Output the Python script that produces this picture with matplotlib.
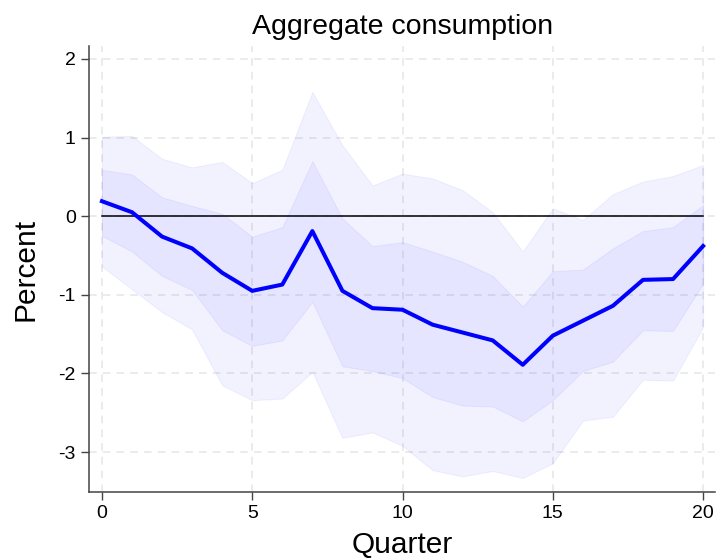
import numpy as np
import matplotlib
matplotlib.use("Agg")
import matplotlib.pyplot as plt

plt.rcParams['font.family'] = ['Liberation Sans', 'DejaVu Sans']
plt.rcParams['axes.unicode_minus'] = False

quarters = np.arange(21)
irf = [0.19, 0.05, -0.26, -0.41, -0.72, -0.95, -0.87, -0.19, -0.95, -1.17, -1.19,
       -1.38, -1.48, -1.58, -1.89, -1.52, -1.33, -1.14, -0.81, -0.80, -0.38]
hi68 = [0.59, 0.53, 0.24, 0.13, 0.03, -0.26, -0.14, 0.70, -0.03, -0.38, -0.33,
        -0.45, -0.58, -0.76, -1.15, -0.70, -0.68, -0.41, -0.19, -0.14, 0.14]
lo68 = [-0.25, -0.45, -0.76, -0.94, -1.45, -1.65, -1.58, -1.09, -1.91, -1.97, -2.06,
        -2.30, -2.41, -2.42, -2.61, -2.34, -1.97, -1.85, -1.45, -1.46, -0.86]
hi90 = [1.01, 1.02, 0.73, 0.62, 0.69, 0.42, 0.59, 1.58, 0.90, 0.39, 0.54,
        0.48, 0.33, 0.05, -0.45, 0.10, -0.05, 0.28, 0.44, 0.51, 0.65]
lo90 = [-0.64, -0.93, -1.22, -1.44, -2.15, -2.34, -2.32, -1.98, -2.82, -2.75, -2.92,
        -3.23, -3.31, -3.24, -3.33, -3.14, -2.60, -2.55, -2.08, -2.09, -1.41]
xticks = [0, 5, 10, 15, 20]
yticks = [-3, -2, -1, 0, 1, 2]

fig = plt.figure(figsize=(7.18, 5.58), dpi=100)
ax = fig.add_axes([0.124, 0.118, 0.872, 0.799])

# bands: 90% then 68% on top
ax.fill_between(quarters, lo90, hi90, color='blue', alpha=0.05, lw=0.8)
ax.fill_between(quarters, lo68, hi68, color='blue', alpha=0.05, lw=0.8)
ax.plot(quarters, np.zeros(len(quarters)), color='black', lw=1.1)
ax.plot(quarters, irf, color='blue', lw=2.9)

ax.set_xlim(-0.43, 20.4)
ax.set_ylim(-3.51, 2.16)
ax.set_xticks(xticks)
ax.set_yticks(yticks)
ax.grid(True, color='#e6e6e6', ls=(0, (5, 4)), lw=1.1)
ax.set_axisbelow(True)

for s in ['top', 'right']:
    ax.spines[s].set_visible(False)
for s in ['left', 'bottom']:
    ax.spines[s].set_color('#444444')
    ax.spines[s].set_linewidth(1.1)
ax.tick_params(direction='out', length=5.5, width=1.0, color='#444444',
               labelsize=14, pad=4)

ax.set_title('Aggregate consumption', fontsize=20.5, pad=9)
ax.set_xlabel('Quarter', fontsize=21.5, labelpad=6)
ax.set_ylabel('Percent', fontsize=21.5, labelpad=14)

fig.savefig('out.png', dpi=100)
